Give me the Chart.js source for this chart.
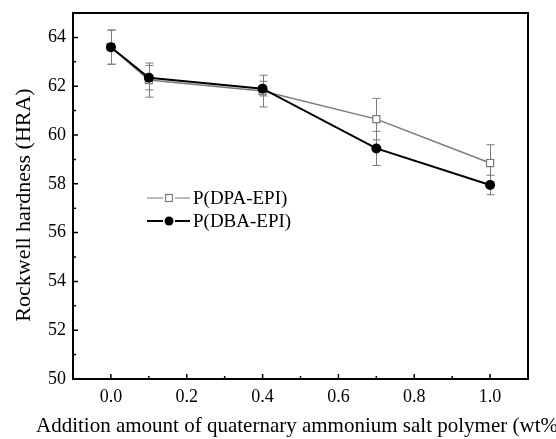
<!DOCTYPE html>
<html>
<head>
<meta charset="utf-8">
<script src="https://cdn.jsdelivr.net/npm/chart.js@4/dist/chart.umd.min.js"></script>
<style>
  html, body { margin: 0; padding: 0; background: #fff; }
  #wrap { width: 556px; height: 439px; }
</style>
</head>
<body>
<div id="wrap"><canvas id="chart" width="556" height="439"></canvas></div>
<script>
const xValues = [0.0, 0.1, 0.4, 0.7, 1.0];
const dpaValues = [63.6, 62.25, 61.8, 60.65, 58.85];
const dpaErrors = [0.7, 0.7, 0.65, 0.85, 0.75];
const dbaValues = [63.6, 62.35, 61.9, 59.45, 57.95];
const dbaErrors = [0.7, 0.5, 0.3, 0.7, 0.4];
const xTicks = [0.0, 0.2, 0.4, 0.6, 0.8, 1.0];
const xMinorTicks = [-0.1, 0.1, 0.3, 0.5, 0.7, 0.9, 1.1];
const yTicks = [50, 52, 54, 56, 58, 60, 62, 64];
const yMinorTicks = [51, 53, 55, 57, 59, 61, 63, 65];

const FONT = '"Liberation Serif", "Times New Roman", serif';
const GRAY = '#7a7a7a';

const toPoints = vals => vals.map((v, i) => ({ x: xValues[i], y: v }));

const errorBars = {
    id: 'errorBars',
    beforeDatasetsDraw(chart) {
        const ctx = chart.ctx;
        const xs = chart.scales.x, ys = chart.scales.y;
        const sets = [[dpaValues, dpaErrors], [dbaValues, dbaErrors]];
        ctx.save();
        ctx.strokeStyle = GRAY;
        ctx.lineWidth = 1;
        sets.forEach(([vals, errs]) => {
            vals.forEach((v, i) => {
                const px = Math.round(xs.getPixelForValue(xValues[i])) + 0.5;
                const top = ys.getPixelForValue(v + errs[i]);
                const bot = ys.getPixelForValue(v - errs[i]);
                ctx.beginPath();
                ctx.moveTo(px, top); ctx.lineTo(px, bot);
                ctx.moveTo(px - 4, top); ctx.lineTo(px + 4, top);
                ctx.moveTo(px - 4, bot); ctx.lineTo(px + 4, bot);
                ctx.stroke();
            });
        });
        ctx.restore();
    }
};

const frame = {
    id: 'frame',
    afterDraw(chart) {
        const ctx = chart.ctx;
        const a = chart.chartArea;
        const xs = chart.scales.x, ys = chart.scales.y;
        ctx.save();
        ctx.strokeStyle = '#000';
        ctx.lineWidth = 2;
        ctx.strokeRect(a.left, a.top, a.right - a.left, a.bottom - a.top);
        ctx.lineWidth = 1.5;
        ctx.beginPath();
        xTicks.forEach(t => {
            const p = xs.getPixelForValue(t);
            ctx.moveTo(p, a.bottom); ctx.lineTo(p, a.bottom - 5);
        });
        xMinorTicks.forEach(t => {
            const p = xs.getPixelForValue(t);
            ctx.moveTo(p, a.bottom); ctx.lineTo(p, a.bottom - 3);
        });
        yTicks.forEach(t => {
            const p = ys.getPixelForValue(t);
            ctx.moveTo(a.left, p); ctx.lineTo(a.left + 5, p);
        });
        yMinorTicks.forEach(t => {
            const p = ys.getPixelForValue(t);
            ctx.moveTo(a.left, p); ctx.lineTo(a.left + 3, p);
        });
        ctx.stroke();

        // legend: line - marker - line, then label
        const rows = [
            { label: 'P(DPA-EPI)', color: GRAY, y: 198, square: true },
            { label: 'P(DBA-EPI)', color: '#000', y: 221, square: false }
        ];
        ctx.font = '19px ' + FONT;
        ctx.textBaseline = 'middle';
        rows.forEach(r => {
            ctx.strokeStyle = r.color;
            ctx.lineWidth = r.square ? 1.2 : 1.8;
            ctx.beginPath();
            ctx.moveTo(147, r.y); ctx.lineTo(163, r.y);
            ctx.moveTo(175, r.y); ctx.lineTo(190, r.y);
            ctx.stroke();
            if (r.square) {
                ctx.strokeRect(165.5, r.y - 3.5, 7, 7);
            } else {
                ctx.fillStyle = '#000';
                ctx.beginPath();
                ctx.arc(169, r.y, 4.5, 0, Math.PI * 2);
                ctx.fill();
            }
            ctx.fillStyle = '#000';
            ctx.textAlign = 'left';
            ctx.fillText(r.label, 193, r.y + 1);
        });

        // axis titles
        ctx.font = '21px ' + FONT;
        ctx.textAlign = 'center';
        ctx.fillText('Addition amount of quaternary ammonium salt polymer (wt%)', (a.left + a.right) / 2, 426);
        ctx.save();
        ctx.translate(24, 205);
        ctx.rotate(-Math.PI / 2);
        ctx.font = '22px ' + FONT;
        ctx.fillText('Rockwell hardness (HRA)', 0, 0);
        ctx.restore();
        ctx.restore();
    }
};

new Chart(document.getElementById('chart'), {
    type: 'line',
    data: {
        datasets: [
            {
                label: 'P(DBA-EPI)',
                data: toPoints(dbaValues),
                borderColor: '#000',
                backgroundColor: '#000',
                borderWidth: 2,
                pointStyle: 'circle',
                pointRadius: 5,
                pointBorderWidth: 0,
                tension: 0
            },
            {
                label: 'P(DPA-EPI)',
                data: toPoints(dpaValues),
                borderColor: GRAY,
                backgroundColor: '#fff',
                borderWidth: 1.5,
                pointStyle: 'rect',
                pointRadius: 5,
                pointBorderWidth: 1.2,
                tension: 0
            }
        ]
    },
    options: {
        responsive: false,
        animation: false,
        devicePixelRatio: 1,
        layout: { padding: { top: 13, right: 28, left: 0, bottom: 0 } },
        plugins: { legend: { display: false }, tooltip: { enabled: false } },
        scales: {
            x: {
                type: 'linear',
                min: -0.1,
                max: 1.1,
                afterBuildTicks: s => { s.ticks = xTicks.map(v => ({ value: v })); },
                afterFit: s => { s.height = 60; s.paddingLeft = 0; s.paddingRight = 0; },
                grid: { display: false, drawTicks: false },
                border: { display: false },
                ticks: {
                    padding: 7,
                    color: '#000',
                    font: { family: FONT, size: 18 },
                    callback: v => v.toFixed(1),
                    maxRotation: 0
                }
            },
            y: {
                type: 'linear',
                min: 50,
                max: 65,
                afterBuildTicks: s => { s.ticks = yTicks.map(v => ({ value: v })); },
                afterFit: s => { s.width = 73; s.paddingTop = 0; s.paddingBottom = 0; },
                grid: { display: false, drawTicks: false },
                border: { display: false },
                ticks: {
                    padding: 7,
                    color: '#000',
                    font: { family: FONT, size: 18 }
                }
            }
        }
    },
    plugins: [errorBars, frame]
});
</script>
</body>
</html>
